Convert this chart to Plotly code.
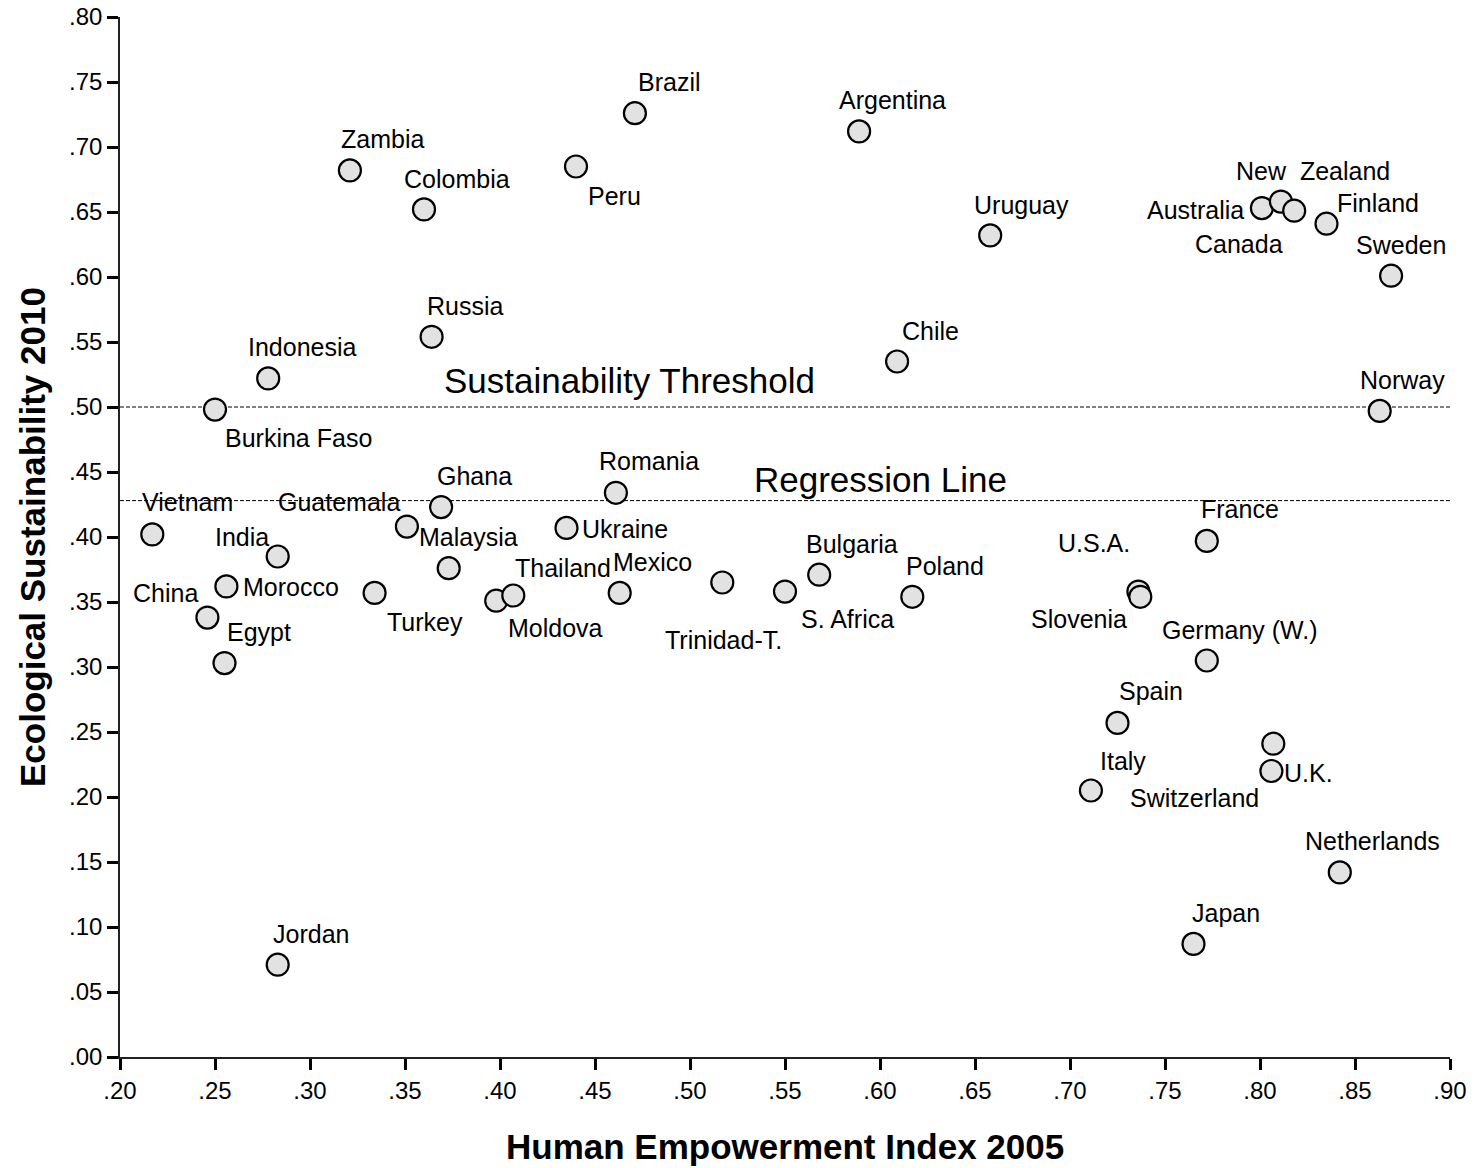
import plotly.graph_objects as go

# ---- data ----
countries = ["Brazil", "Argentina", "Zambia", "Peru", "Colombia", "Uruguay",
             "Australia", "New  Zealand", "Canada", "Finland", "Sweden",
             "Russia", "Chile", "Indonesia", "Burkina Faso", "Norway",
             "Romania", "Ghana", "Vietnam", "Guatemala", "Ukraine", "France",
             "India", "Malaysia", "Morocco", "Turkey", "Moldova", "Thailand",
             "Mexico", "Trinidad-T.", "S. Africa", "Bulgaria", "Poland",
             "U.S.A.", "Slovenia", "China", "Egypt", "Germany (W.)", "Spain",
             "U.K.", "Switzerland", "Italy", "Netherlands", "Japan", "Jordan"]
hei_2005 = [0.471, 0.589, 0.321, 0.440, 0.360, 0.658,
            0.801, 0.811, 0.818, 0.835, 0.869,
            0.364, 0.609, 0.278, 0.250, 0.863,
            0.461, 0.369, 0.217, 0.351, 0.435, 0.772,
            0.283, 0.373, 0.256, 0.334, 0.398, 0.407,
            0.463, 0.517, 0.550, 0.568, 0.617,
            0.736, 0.737, 0.246, 0.255, 0.772, 0.725,
            0.807, 0.806, 0.711, 0.842, 0.765, 0.283]
eco_2010 = [0.726, 0.712, 0.682, 0.685, 0.652, 0.632,
            0.653, 0.658, 0.651, 0.641, 0.601,
            0.554, 0.535, 0.522, 0.498, 0.497,
            0.434, 0.423, 0.402, 0.408, 0.407, 0.397,
            0.385, 0.376, 0.362, 0.357, 0.351, 0.355,
            0.357, 0.365, 0.358, 0.371, 0.354,
            0.358, 0.354, 0.338, 0.303, 0.305, 0.257,
            0.241, 0.220, 0.205, 0.142, 0.087, 0.071]

threshold_value = 0.50
regression_value = 0.428
threshold_label = "Sustainability Threshold"
regression_label = "Regression Line"

x_ticks = [0.20, 0.25, 0.30, 0.35, 0.40, 0.45, 0.50, 0.55, 0.60, 0.65, 0.70, 0.75, 0.80, 0.85, 0.90]
y_ticks = [0.00, 0.05, 0.10, 0.15, 0.20, 0.25, 0.30, 0.35, 0.40, 0.45, 0.50, 0.55, 0.60, 0.65, 0.70, 0.75, 0.80]
x_tick_labels = [f"{v:.2f}"[1:] for v in x_ticks]
y_tick_labels = [f"{v:.2f}"[1:] for v in y_ticks]

x_title = "Human Empowerment Index 2005"
y_title = "Ecological Sustainability 2010"

# ---- label placement (pixel offsets of label centre from the point; y down) ----
label_offsets = {
    "Brazil": (35, -31), "Argentina": (33, -31), "Zambia": (33, -31),
    "Peru": (38, 29), "Colombia": (33, -30), "Uruguay": (31, -30),
    "Australia": (-66, 2), "New  Zealand": (32, -31), "Canada": (-55, 33),
    "Finland": (51, -21), "Sweden": (10, -31), "Russia": (34, -31),
    "Chile": (33, -31), "Indonesia": (34, -31), "Burkina Faso": (83, 28),
    "Norway": (23, -31), "Romania": (33, -32), "Ghana": (33, -31),
    "Vietnam": (35, -32), "Guatemala": (-68, -25), "Ukraine": (58, 1),
    "France": (33, -32), "India": (-36, -20), "Malaysia": (20, -31),
    "Morocco": (65, 1), "Turkey": (50, 29), "Moldova": (59, 27),
    "Thailand": (50, -28), "Mexico": (33, -31), "Trinidad-T.": (1, 57),
    "S. Africa": (62, 27), "Bulgaria": (33, -31), "Poland": (33, -31),
    "U.S.A.": (-44, -49), "Slovenia": (-61, 22), "China": (-42, -25),
    "Egypt": (34, -31), "Germany (W.)": (33, -31), "Spain": (33, -32),
    "U.K.": (35, 29), "Switzerland": (-77, 27), "Italy": (32, -30),
    "Netherlands": (33, -31), "Japan": (32, -31), "Jordan": (33, -31),
}

FONT = "Arial, 'Liberation Sans', sans-serif"

fig = go.Figure()

# reference lines
for yv in (threshold_value, regression_value):
    fig.add_shape(type="line", xref="x", yref="y", x0=0.20, x1=0.90, y0=yv, y1=yv,
                  line=dict(color="black", width=1, dash="4px,2px"), layer="below")

fig.add_trace(go.Scatter(
    x=hei_2005, y=eco_2010, mode="markers",
    marker=dict(size=22, color="#e2e2e2", line=dict(color="black", width=2.2)),
    hoverinfo="text", text=countries, showlegend=False,
))

annotations = []
for name, xv, yv in zip(countries, hei_2005, eco_2010):
    dx, dy = label_offsets[name]
    annotations.append(dict(x=xv, y=yv, xref="x", yref="y", text=name, showarrow=False,
                            xanchor="center", yanchor="middle", xshift=dx, yshift=-dy,
                            font=dict(family=FONT, size=25, color="black")))

annotations.append(dict(x=0.468, y=threshold_value, xref="x", yref="y", text=threshold_label,
                        showarrow=False, xanchor="center", yanchor="middle", yshift=27,
                        font=dict(family=FONT, size=35, color="black")))
annotations.append(dict(x=0.600, y=regression_value, xref="x", yref="y", text=regression_label,
                        showarrow=False, xanchor="center", yanchor="middle", yshift=21,
                        font=dict(family=FONT, size=35, color="black")))

annotations.append(dict(x=0.5, y=0, xref="paper", yref="paper", text=f"<b>{x_title}</b>",
                        showarrow=False, xanchor="center", yanchor="middle", yshift=-89,
                        font=dict(family=FONT, size=35, color="black")))
annotations.append(dict(x=0, y=0.5, xref="paper", yref="paper", text=f"<b>{y_title}</b>",
                        showarrow=False, xanchor="center", yanchor="middle", xshift=-88,
                        textangle=-90, font=dict(family=FONT, size=35, color="black")))

fig.update_layout(
    width=1474, height=1168,
    margin=dict(l=120, r=24, t=17, b=111, autoexpand=False),
    paper_bgcolor="white", plot_bgcolor="white",
    annotations=annotations,
    font=dict(family=FONT, color="black"),
)
axis_style = dict(automargin=False, ticklabeloverflow="allow",
                  showgrid=False, zeroline=False, showline=True, linecolor="#222222", linewidth=1.5,
                  ticks="outside", ticklen=11, tickwidth=3, tickcolor="black",
                  tickfont=dict(family=FONT, size=24, color="black"))
fig.update_xaxes(range=[0.20, 0.90], tickvals=x_ticks, ticktext=x_tick_labels, **axis_style)
fig.update_yaxes(range=[0.00, 0.80], tickvals=y_ticks, ticktext=y_tick_labels, **axis_style)

# remove the default page margin so the figure fills the window exactly
post = ("document.documentElement.style.margin='0';document.body.style.margin='0';"
        "document.documentElement.style.overflow='hidden';document.body.style.overflow='hidden';")
fig.write_html("out.html", post_script=post, config={"displayModeBar": False})
